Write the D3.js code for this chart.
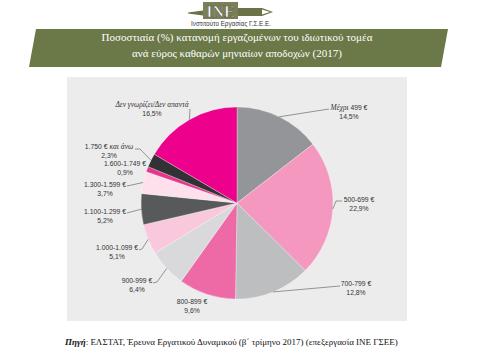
<!DOCTYPE html>
<html><head><meta charset="utf-8">
<script src="https://cdn.jsdelivr.net/npm/d3@7"></script>
<style>html,body{margin:0;padding:0;background:#fff;}svg{display:block;}</style>
</head><body>
<svg id="c" width="480" height="360"></svg>
<script>
// ---- data ----
const categories = ["Μέχρι 499 €","500-699 €","700-799 €","800-899 €","900-999 €","1.000-1.099 €","1.100-1.299 €","1.300-1.599 €","1.600-1.749 €","1.750 € και άνω","Δεν γνωρίζει/Δεν απαντά"];
const values = [14.5, 22.9, 12.8, 9.6, 6.4, 5.1, 5.2, 3.7, 0.9, 2.3, 16.5];
const valueLabels = ["14,5%","22,9%","12,8%","9,6%","6,4%","5,1%","5,2%","3,7%","0,9%","2,3%","16,5%"];
const colors = ["#939598","#f598c0","#bcbec0","#ee6aa7","#d9d9db","#f9c8dc","#58595b","#fde0ec","#e6358a","#323234","#ec008c"];
const titleLines = ["Ποσοστιαία (%) κατανομή εργαζομένων του ιδιωτικού τομέα","ανά εύρος καθαρών μηνιαίων αποδοχών (2017)"];

// ---- layout (label anchors & leader elbows) ----
const labelPos = [
  {x:349,y:109.5,lead:[[329,109]]},
  {x:359,y:202,lead:[[336,201],[342,201]]},
  {x:356,y:286,lead:[[340,286]]},
  {x:192,y:304,lead:null},
  {x:137,y:283,lead:[[157,282],[153,283]]},
  {x:117,y:250,lead:[[142,249],[139,250]]},
  {x:105,y:214,lead:[[127,213]]},
  {x:105,y:187,lead:[[127,186]]},
  {x:125,y:166,lead:null},
  {x:109,y:149,lead:[[140,149],[135,149]]},
  {x:152,y:107,lead:[[190,109]]}
];

const svg = d3.select("#c");
const cx = 237, cy = 203, R = 96;
const serif = "'Liberation Serif','DejaVu Serif',serif";

// logo
const logo = svg.append("g");
logo.append("path").attr("d","M188,12.5 L203,10.5 L203,15.5 L188,13.5 Z").attr("fill","#6b7247");
logo.append("rect").attr("x",203).attr("y",2).attr("width",35).attr("height",17).attr("fill","#7a7f58");
logo.append("text").attr("x",220.5).attr("y",17).attr("text-anchor","middle")
  .attr("font-family",serif).attr("font-weight","bold").attr("font-size",16)
  .attr("fill","#fff").attr("stroke","#555a3a").attr("stroke-width",0.6).text("INE");
logo.append("path").attr("d","M238,8 L262,8 L273,12 L262,16 L238,16 Z").attr("fill","#6b7247");
logo.append("path").attr("d","M262,9.5 L270,12 L262,14.5 Z").attr("fill","#fff");
logo.append("text").attr("x",191).attr("y",26).attr("font-family","'Liberation Sans',sans-serif")
  .attr("font-size",6.3).attr("fill","#333").text("Ινστιτούτο Εργασίας Γ.Σ.Ε.Ε.");

// title banner
svg.append("path").attr("d","M36,29 L448,29 L441,67 L29,67 Z").attr("fill","#6b7847");
svg.append("g").selectAll("text").data(titleLines).join("text")
  .attr("x",237).attr("y",(d,i)=>41+i*16).attr("text-anchor","middle")
  .attr("font-family",serif).attr("font-weight","normal").attr("font-size",11).attr("fill","#fff").text(d=>d);

// panel
svg.append("rect").attr("x",67).attr("y",77).attr("width",340).attr("height",244).attr("fill","#ececec");

// pie
const pie = d3.pie().sort(null).value(d=>d);
const arcs = pie(values);
const arc = d3.arc().innerRadius(0).outerRadius(R);
const g = svg.append("g").attr("transform",`translate(${cx},${cy})`);
g.selectAll("path").data(arcs).join("path")
  .attr("d",arc).attr("fill",(d,i)=>colors[i]).attr("stroke","#fff").attr("stroke-width",0.3);

// leaders
const line = d3.line();
arcs.forEach((a,i)=>{
  const lp = labelPos[i];
  if(!lp.lead) return;
  const m = (a.startAngle+a.endAngle)/2;
  const p0 = [cx+R*Math.sin(m), cy-R*Math.cos(m)];
  svg.append("path").attr("d",line([p0,...lp.lead])).attr("fill","none")
    .attr("stroke","#555").attr("stroke-width",0.6);
});

// labels
const italicWords = ["Μέχρι","και άνω","Δεν γνωρίζει/Δεν απαντά"];
const lg = svg.append("g").attr("font-family","'Liberation Sans',sans-serif").attr("font-size",6.8).attr("fill","#333");
categories.forEach((c,i)=>{
  const lp = labelPos[i];
  const t = lg.append("text").attr("x",lp.x).attr("y",lp.y).attr("text-anchor","middle");
  let parts = [[c,false]];
  italicWords.forEach(w=>{
    const np=[];
    parts.forEach(([s,it])=>{
      if(it||s.indexOf(w)<0){np.push([s,it]);return;}
      const k=s.indexOf(w);
      if(k>0) np.push([s.slice(0,k),false]);
      np.push([w,true]);
      if(k+w.length<s.length) np.push([s.slice(k+w.length),false]);
    });
    parts=np;
  });
  parts.forEach(([s,it])=>{
    t.append("tspan").attr("font-style",it?"italic":null)
      .attr("font-family",it?serif:null).attr("font-size",it?7.4:null).text(s);
  });
  lg.append("text").attr("x",lp.x).attr("y",lp.y+9).attr("text-anchor","middle").text(valueLabels[i]);
});

// source
const src = svg.append("text").attr("x",65).attr("y",345).attr("font-family",serif)
  .attr("font-size",9).attr("fill","#111");
src.append("tspan").attr("font-weight","bold").attr("font-style","italic").text("Πηγή");
src.append("tspan").text(": ΕΛΣΤΑΤ, Έρευνα Εργατικού Δυναμικού (β΄ τρίμηνο 2017) (επεξεργασία ΙΝΕ ΓΣΕΕ)");
</script>
</body></html>
